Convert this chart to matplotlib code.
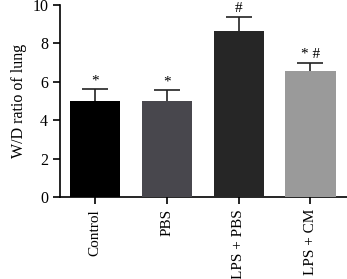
import numpy as np
import matplotlib.pyplot as plt

plt.rcParams['font.family'] = ['Liberation Serif', 'DejaVu Serif']

groups = ['Control', 'PBS', 'LPS + PBS', 'LPS + CM']
means = [5.0, 5.0, 8.65, 6.55]
errs = [0.6, 0.57, 0.75, 0.45]
marks = ['*', '*', '#', '* #']
colors = ['#000000', '#48474d', '#262626', '#9a9a9a']

fig = plt.figure(figsize=(3.47, 2.79), dpi=100)
ax = fig.add_axes([60/347, 1-197/279, 287/347, 192/279])

x = np.arange(len(groups))
ax.bar(x, means, width=0.7, color=colors, zorder=3)
eb = ax.errorbar(x, means, yerr=[np.zeros(len(means)), errs], fmt='none',
                 ecolor='#222222', elinewidth=1.2, capsize=9.5, capthick=1.2, zorder=2)
eb[1][0].set_visible(False)  # no lower cap
for xi, m, e, t in zip(x, means, errs, marks):
    ax.text(xi, m + e + 0.08, t, ha='center', va='bottom', fontsize=11)

ax.set_xlim(-0.49, 3.51)
ax.set_ylim(0, 10)
ax.set_yticks([0, 2, 4, 6, 8, 10])
ax.set_xticks(x)
ax.set_xticklabels(groups, rotation=90, fontsize=11)
ax.tick_params(axis='y', labelsize=11.5, width=1.2, length=5)
ax.tick_params(axis='x', width=1.2, length=5)
ax.set_ylabel('W/D ratio of lung', fontsize=11.5)
ax.spines['top'].set_visible(False)
ax.spines['right'].set_visible(False)
ax.spines['left'].set_linewidth(1.2)
ax.spines['bottom'].set_linewidth(1.2)

fig.savefig('out.png', dpi=100)
